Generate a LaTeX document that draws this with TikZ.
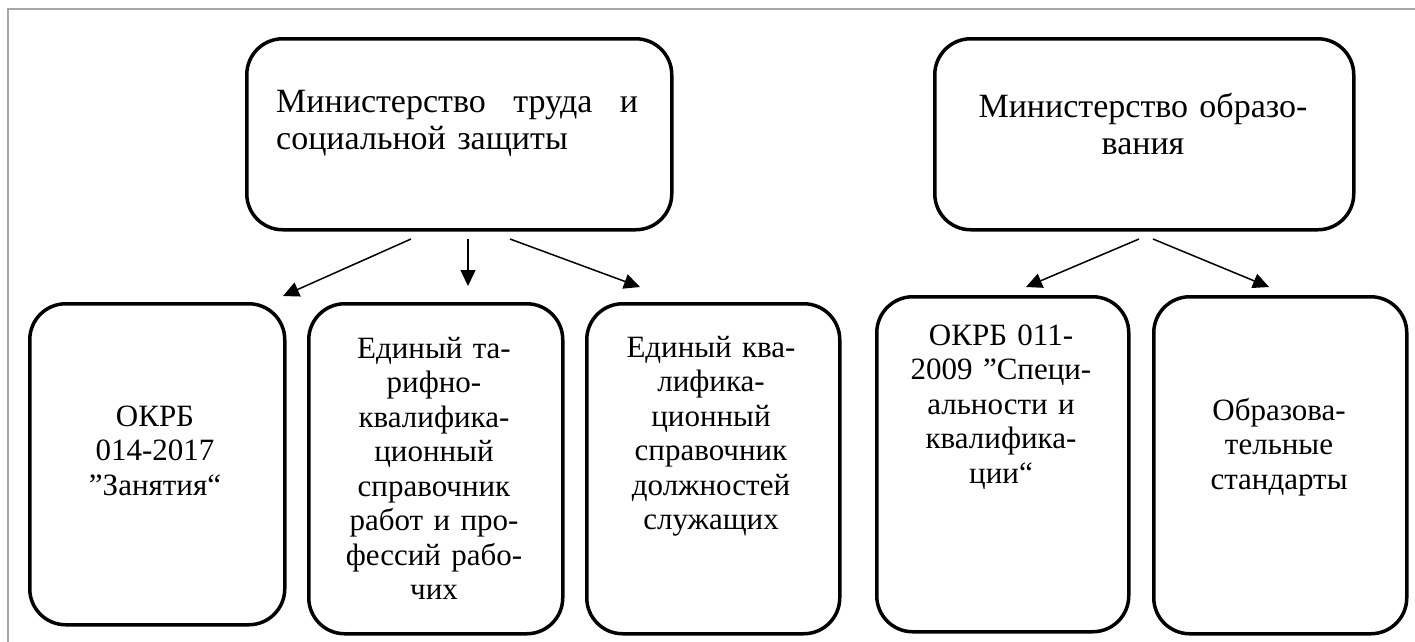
\documentclass[tikz,border=0pt]{standalone}
\usepackage{fontspec}
\setmainfont{Liberation Serif}
\usetikzlibrary{arrows.meta}
\begin{document}
\begin{tikzpicture}[x=1pt,y=-1pt,
  box/.style={draw, line width=3.5pt, rounded corners=36pt, inner sep=0pt, anchor=north west},
  toptext/.style={font=\fontsize{34}{37.5}\selectfont, inner sep=0pt, anchor=base},
  lowtext/.style={font=\fontsize{31}{34.5}\selectfont, inner sep=0pt, anchor=base, text width=250pt, align=center},
  arr/.style={line width=1.5pt, -{Triangle[length=16pt,width=15pt]}},
  frameline/.style={draw=black!35, line width=2pt}]
\path[use as bounding box] (0,0) rectangle (1415,641);
\draw[frameline] (8,645) -- (8,9) -- (1420,9);

% boxes
\node[box, minimum width=425pt, minimum height=191pt] (A) at (245,37) {};
\node[box, minimum width=419pt, minimum height=191pt] (B) at (933,37) {};
\node[box, minimum width=255pt, minimum height=321pt] (C1) at (28,302) {};
\node[box, minimum width=254pt, minimum height=330pt] (C2) at (307,302) {};
\node[box, minimum width=253pt, minimum height=330pt] (C3) at (585,302) {};
\node[box, minimum width=252pt, minimum height=335pt] (C4) at (875,295) {};
\node[box, minimum width=253pt, minimum height=337pt] (C5) at (1152,295) {};

% texts
\node[toptext, anchor=base west, text width=362pt, align=left] (tA) at (276,112)
  {\hbox to 362pt{Министерство\hfill труда\hfill и}\\социальной защиты};
\node[toptext, text width=400pt, align=center] (tB) at (1143,117) {Министерство образо-\\вания};
\node[lowtext] (t1) at (155,426) {ОКРБ\\014-2017\\”Занятия“};
\node[lowtext] (t2) at (434,358) {Единый та-\\рифно-\\квалифика-\\ционный\\справочник\\работ и про-\\фессий рабо-\\чих};
\node[lowtext] (t3) at (711,357) {Единый ква-\\лифика-\\ционный\\справочник\\должностей\\служащих};
\node[lowtext] (t4) at (1001,345) {ОКРБ 011-\\2009 ”Специ-\\альности и\\квалифика-\\ции“};
\node[lowtext] (t5) at (1279,420) {Образова-\\тельные\\стандарты};

% connectors
\coordinate (a1s) at (411,239); \coordinate (a1e) at (283,296);
\coordinate (a2s) at (468,239); \coordinate (a2e) at (468,286);
\coordinate (a3s) at (510,239); \coordinate (a3e) at (640,287);
\coordinate (b1s) at (1139,239); \coordinate (b1e) at (1026,287);
\coordinate (b2s) at (1153,239); \coordinate (b2e) at (1269,287);
\draw[arr] (a1s) -- (a1e);
\draw[arr] (a2s) -- (a2e);
\draw[arr] (a3s) -- (a3e);
\draw[arr] (b1s) -- (b1e);
\draw[arr] (b2s) -- (b2e);
\end{tikzpicture}
\end{document}
